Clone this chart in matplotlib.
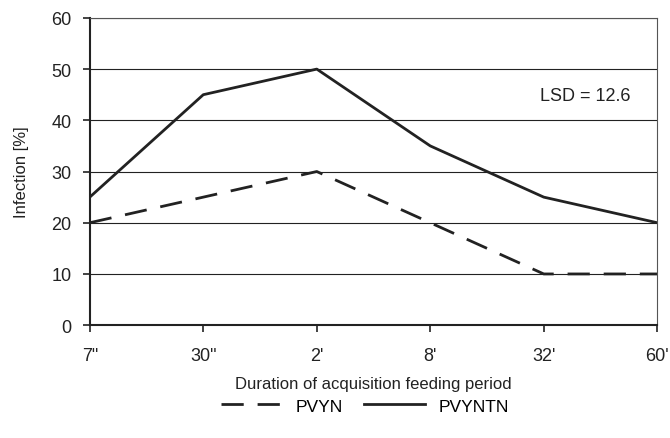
import numpy as np
import matplotlib
matplotlib.use("Agg")
import matplotlib.pyplot as plt
from matplotlib import rcParams
rcParams.update({"font.family": "Liberation Sans", "font.size": 12})

categories = ['7"', '30"', "2'", "8'", "32'", "60'"]
pvyn = [20, 25, 30, 20, 10, 10]
pvyntn = [25, 45, 50, 35, 25, 20]


def main():
    fig = plt.figure(figsize=(6.70, 4.39), dpi=100)
    ax = fig.add_axes([0.134, 0.257, 0.847, 0.700])
    x = np.arange(len(categories))

    ax.plot(x, pvyn, color="#222222", lw=2, dashes=(8, 5), label="PVYN")
    ax.plot(x, pvyntn, color="#222222", lw=2, label="PVYNTN")

    ax.set_xlim(0, len(categories) - 1)
    ax.set_ylim(0, 60)
    ax.set_yticks(range(0, 61, 10))
    ax.set_xticks(x)
    ax.set_xticklabels(categories)
    ax.yaxis.grid(True, color="#222222", lw=0.8)
    ax.set_axisbelow(True)
    for side in ["top", "right"]:
        ax.spines[side].set_color("#555555")
        ax.spines[side].set_linewidth(0.8)
    for side in ["left", "bottom"]:
        ax.spines[side].set_color("#222222")
        ax.spines[side].set_linewidth(1.5)
    ax.tick_params(direction="out", length=5, width=1.2, colors="#222222", labelsize=13)
    ax.tick_params(axis="x", pad=11)
    ax.tick_params(axis="y", pad=8)

    ax.set_ylabel("Infection [%]", labelpad=16, color="#222222")
    ax.set_xlabel("Duration of acquisition feeding period", labelpad=8, color="#222222")
    ax.text(0.952, 0.746, "LSD = 12.6", transform=ax.transAxes, ha="right", va="center",
            color="#222222", fontsize=13,
            bbox=dict(facecolor="white", edgecolor="none", pad=2))

    fig.legend(loc="center", bbox_to_anchor=(0.545, 0.073), ncol=2, frameon=False,
               handlelength=3.5, columnspacing=1.2, fontsize=12.5)
    fig.savefig("out.png", dpi=100)


if __name__ == "__main__":
    main()
